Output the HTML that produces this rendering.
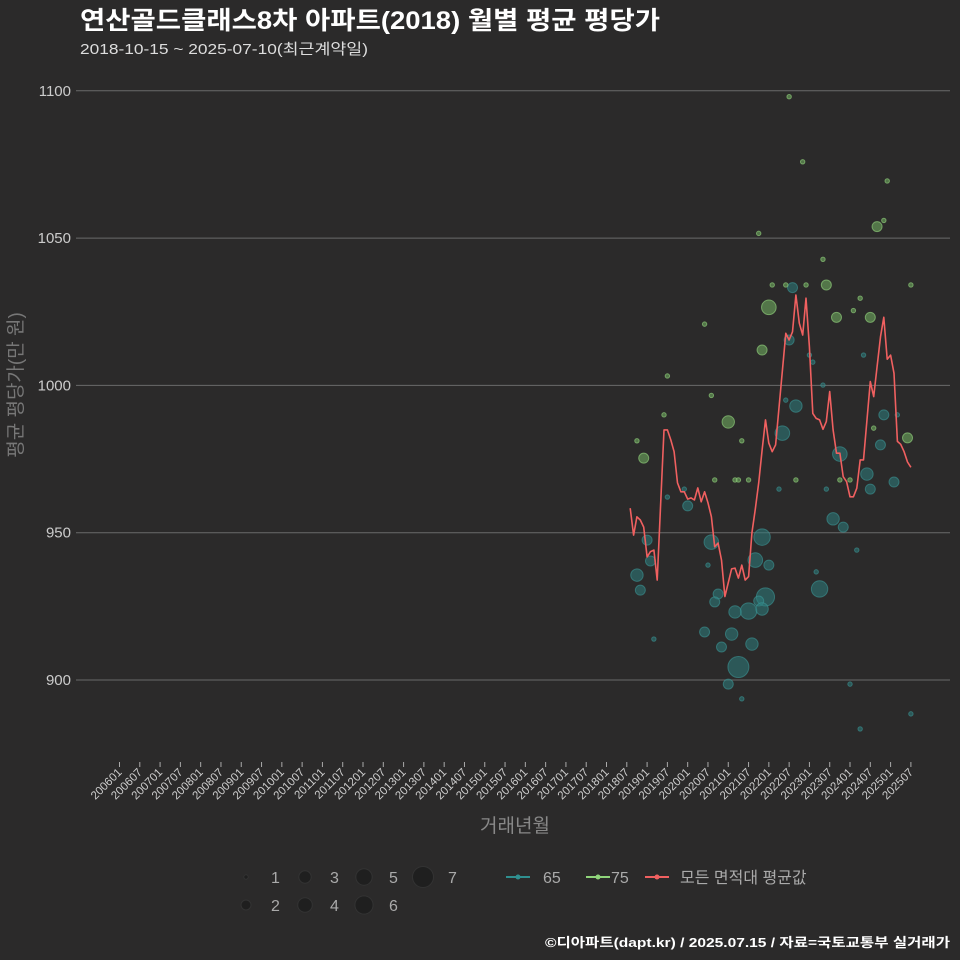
<!DOCTYPE html>
<html><head><meta charset="utf-8">
<style>
html,body{margin:0;padding:0;background:#2b2a2a;}
svg{display:block;font-family:"Liberation Sans","Noto Sans CJK KR",sans-serif;}
</style></head>
<body>
<svg id="chart" width="960" height="960" viewBox="0 0 960 960" xmlns="http://www.w3.org/2000/svg">
<rect width="960" height="960" fill="#2b2a2a"/>
<text x="80" y="29" fill="#ffffff" font-size="25" font-weight="bold" textLength="580" lengthAdjust="spacingAndGlyphs">연산골드클래스8차 아파트(2018) 월별 평균 평당가</text>
<text x="80" y="54" fill="#dddddd" font-size="15" textLength="288" lengthAdjust="spacingAndGlyphs">2018-10-15 ~ 2025-07-10(최근계약일)</text>
<g id="grid"></g>
<g id="yticks"></g>
<g id="xticks"></g>
<g id="points"></g>
<g id="line"></g>
<text transform="translate(22,385) rotate(-90)" text-anchor="middle" fill="#777" font-size="19">평균 평당가(만 원)</text>
<text x="515" y="832" text-anchor="middle" fill="#888" font-size="19">거래년월</text>
<g id="legend"></g>
<text x="950" y="947" text-anchor="end" fill="#ffffff" font-size="13" font-weight="bold" textLength="405" lengthAdjust="spacingAndGlyphs">©디아파트(dapt.kr) / 2025.07.15 / 자료=국토교통부 실거래가</text>
</svg>
<script>
const yTicks = [900, 950, 1000, 1050, 1100];
const lineMonths = ["2018-08","2018-09","2018-10","2018-11","2018-12","2019-01","2019-02","2019-03","2019-04","2019-06","2019-07","2019-08","2019-09","2019-10","2019-11","2019-12","2020-01","2020-02","2020-03","2020-04","2020-05","2020-06","2020-07","2020-08","2020-09","2020-10","2020-11","2020-12","2021-02","2021-03","2021-04","2021-05","2021-06","2021-07","2021-08","2021-09","2021-10","2021-11","2021-12","2022-01","2022-02","2022-03","2022-06","2022-07","2022-08","2022-09","2022-10","2022-11","2022-12","2023-01","2023-02","2023-03","2023-04","2023-05","2023-06","2023-07","2023-08","2023-09","2023-10","2023-11","2023-12","2024-01","2024-02","2024-03","2024-04","2024-05","2024-07","2024-08","2024-09","2024-10","2024-11","2024-12","2025-01","2025-02","2025-03","2025-04","2025-05","2025-06","2025-07"];
const lineValues = [958.3,949.2,955.4,954.3,951.9,941.8,943.6,944.1,933.9,984.9,984.9,981.5,977.5,966.9,963.9,963.9,961.4,961.8,961.1,965.2,960.5,963.9,960.1,955.4,945.2,946.5,940.7,928.3,937.7,938.0,934.6,939.0,933.9,935.1,949.9,958.0,966.9,978.0,988.3,980.4,977.5,979.8,1017.7,1015.4,1018.2,1030.7,1021.1,1017.1,1029.6,1013.1,990.5,988.8,988.3,985.1,987.7,997.9,984.9,977.0,977.0,969.0,967.3,962.2,962.2,965.1,974.7,974.7,1001.3,996.2,1006.4,1016.5,1023.1,1008.9,1010.3,1004.1,981.0,980.0,977.5,974.0,972.2];
const teal65Months = ["2022-09","2024-11","2025-03","2022-05","2023-10","2024-10","2024-06","2025-02","2024-07","2022-04","2023-06","2019-12","2019-07","2020-01","2023-08","2023-11","2019-01","2021-11","2020-08","2024-03","2019-02","2021-09","2022-01","2020-07","2018-10","2023-03","2018-11","2023-04","2020-10","2020-09","2021-12","2021-10","2021-07","2021-03","2021-11","2020-06","2021-02","2021-08","2020-11","2019-03","2021-04","2021-01","2021-05","2024-01","2025-07","2024-04","2022-08","2022-07","2023-01","2023-02","2024-05","2023-05","2022-06"];
const teal65Values = [993.0,990.0,990.0,983.8,976.7,979.8,969.9,967.2,964.8,964.8,964.8,964.8,962.1,959.1,954.7,951.9,947.5,948.5,946.8,944.1,940.4,940.7,939.0,939.0,935.6,936.7,930.5,930.9,929.2,926.5,928.2,926.8,923.4,923.1,924.1,916.3,915.6,912.2,911.2,913.9,904.4,898.6,893.6,898.6,888.5,883.4,1033.2,1015.4,1010.3,1007.9,1010.3,1000.1,995.0];
const teal65Counts = [3,2,1,4,4,2,3,2,2,1,1,1,1,2,3,2,2,5,4,1,2,4,2,1,3,1,2,5,2,2,6,2,5,3,3,2,3,3,2,1,7,2,1,1,1,1,2,2,1,1,1,1,1];
const green75Months = ["2022-07","2022-11","2024-12","2024-11","2024-09","2021-10","2023-05","2022-02","2022-06","2022-12","2023-06","2025-07","2022-01","2024-04","2024-02","2023-09","2024-07","2020-06","2021-11","2019-07","2020-08","2019-06","2021-01","2018-12","2018-10","2021-05","2020-09","2021-03","2021-04","2021-07","2022-09","2023-10","2024-01","2024-08","2025-06"];
const green75Values = [1098.0,1075.9,1069.4,1056.0,1053.9,1051.6,1042.8,1034.1,1034.1,1034.1,1034.1,1034.1,1026.5,1029.6,1025.4,1023.1,1023.1,1020.8,1012.0,1003.2,996.6,990.0,987.6,975.3,981.2,981.2,967.9,967.9,967.9,967.9,967.9,967.9,967.9,985.5,982.2];
const green75Counts = [1,1,1,1,2,1,1,1,1,1,2,1,4,1,1,2,2,1,2,1,1,1,3,2,1,1,1,1,1,1,1,1,1,1,2];
const xTickLabels = [];
for (let yr = 2006; yr <= 2025; yr++) { xTickLabels.push(yr + "01"); xTickLabels.push(yr + "07"); }
const sizeLegend = [1,2,3,4,5,6,7];

const NS = "http://www.w3.org/2000/svg";
function mk(tag, attrs, parent){const e=document.createElementNS(NS,tag);for(const k in attrs)e.setAttribute(k,attrs[k]);parent.appendChild(e);return e;}
function monthIndex(s){const y=+s.slice(0,4), m=+s.slice(s.length-2);return (y-2006)*12+(m-1);}
function xScale(s){return 119.5 + monthIndex(s)*3.382;}
function yScale(v){return 680 - (v-900)*2.946;}
function rScale(n){return [0,2.2,5,6.2,7.3,8.2,9.1,10.5][n];}

const grid=document.getElementById('grid'), yt=document.getElementById('yticks');
yTicks.forEach(v=>{
  const y=yScale(v);
  const l=mk('line',{x1:76,x2:950,y1:y,y2:y,stroke:'#6a6a6a','stroke-width':1},grid);
  
  
  const t=mk('text',{x:71,y:y+5,'text-anchor':'end',fill:'#cccccc','font-size':15},yt);
  t.textContent=v;
  
  
});
const xt=document.getElementById('xticks');
xTickLabels.forEach(lab=>{
  const x=xScale(lab.slice(0,4)+"-"+lab.slice(4));
  const tk=mk('line',{x1:x,x2:x,y1:762,y2:767,stroke:'#aaaaaa','stroke-width':1},xt);
  
  
  const t=mk('text',{x:x+3,y:773,'text-anchor':'end',fill:'#cccccc','font-size':11.5,transform:'rotate(-45 '+(x+3)+' 773)'},xt);
  t.textContent=lab;
  
  
});
const pts=document.getElementById('points');
function drawSeries(months, values, counts, fill, stroke, nm){
  months.forEach((m,i)=>{
    const c=mk('circle',{cx:xScale(m),cy:yScale(values[i]),r:rScale(counts[i]),fill:fill,stroke:stroke,'stroke-width':1},pts);
    
    
  });
}
drawSeries(teal65Months,teal65Values,teal65Counts,'rgba(45,125,125,0.55)','rgba(60,150,150,0.6)','point-65');
drawSeries(green75Months,green75Values,green75Counts,'rgba(110,170,95,0.6)','rgba(140,200,120,0.7)','point-75');
const lg=document.getElementById('line');
const pl=mk('polyline',{points:lineMonths.map((m,i)=>xScale(m).toFixed(1)+','+yScale(lineValues[i]).toFixed(1)).join(' '),fill:'none',stroke:'#f06060','stroke-width':1.6,'stroke-linejoin':'round'},lg);



const leg=document.getElementById('legend');
const pos=[[246,877],[246,905],[305,877],[305,905],[364,877],[364,905],[423,877]];
sizeLegend.forEach((n,i)=>{
  const [x,y]=pos[i];
  const c=mk('circle',{cx:x,cy:y,r:rScale(n),fill:'#1f1f1f',stroke:'#333'},leg);
  
  
  const t=mk('text',{x:x+25,y:y+6,fill:'#aaaaaa','font-size':16},leg);
  t.textContent=n;
  
  
});
[[506,'#2f8f8f','65',543],[586,'#8fd47a','75',611],[645,'#f06060','모든 면적대 평균값',680]].forEach(([x,col,lab,tx])=>{
  const g=mk('g',{},leg);
  
  
  mk('line',{x1:x,x2:x+24,y1:877,y2:877,stroke:col,'stroke-width':2},g);
  mk('circle',{cx:x+12,cy:877,r:2.5,fill:col},g);
  const t=mk('text',{x:tx,y:883,fill:'#aaaaaa','font-size':16},g);
  t.textContent=lab;
});
</script>
</body></html>
